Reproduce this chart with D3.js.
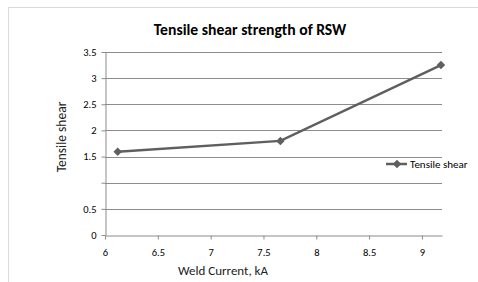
<!DOCTYPE html>
<html>
<head>
<meta charset="utf-8">
<script src="https://cdn.jsdelivr.net/npm/d3@7"></script>
<style>
  body { margin: 0; background: #fff; }
  text { font-family: Carlito, 'Liberation Sans Narrow', 'Open Sans', sans-serif; }
</style>
</head>
<body>
<div id="chart"></div>
<script>
const current = [6.12, 7.66, 9.18]
const shear = [1.59, 1.8, 3.25]
const yTicks = [0, 0.5, 1, 1.5, 2, 2.5, 3, 3.5]
const yTickLabels = ['0', '0.5', '', '1.5', '2', '2.5', '3', '3.5']
const xTicks = [6, 6.5, 7, 7.5, 8, 8.5, 9]
const seriesName = 'Tensile shear'

const chartWidth = 478
const chartHeight = 282
const plotLeft = 105, plotRight = 442, plotTop = 52, plotBottom = 235

const svg = d3
  .select('#chart')
  .append('svg')
  .attr('width', chartWidth)
  .attr('height', chartHeight)

// outer chart border
svg.append('rect')
  .attr('x', 8.5).attr('y', 7.5)
  .attr('width', 480).attr('height', 290)
  .attr('fill', 'none')
  .attr('stroke', '#d9d9d9')

const scaleX = d3.scaleLinear().domain([6, 9.19]).range([plotLeft, plotRight])
const scaleY = d3.scaleLinear().domain([0, 3.5]).range([plotBottom, plotTop])

// gridlines
svg.append('g')
  .selectAll('line')
  .data(yTicks.slice(1))
  .enter()
  .append('line')
  .attr('x1', plotLeft).attr('x2', plotRight)
  .attr('y1', d => Math.round(scaleY(d)) + 0.5)
  .attr('y2', d => Math.round(scaleY(d)) + 0.5)
  .attr('stroke', '#8c8c8c')

const axisX = d3.axisBottom(scaleX).tickValues(xTicks).tickSize(4).tickSizeOuter(0).tickFormat(d3.format('~g'))
const gx = svg.append('g')
  .attr('transform', 'translate(0,' + (plotBottom + 0.5) + ')')
  .call(axisX)
gx.select('.domain').attr('stroke', '#8c8c8c')
gx.selectAll('.tick line').attr('stroke', '#8c8c8c')
gx.selectAll('.tick text').attr('dy', '1.3em').attr('font-size', 10.5).attr('fill', '#000')

const axisY = d3.axisLeft(scaleY).tickValues(yTicks).tickSize(4).tickSizeOuter(0)
  .tickFormat((d, i) => yTickLabels[i])
const gy = svg.append('g')
  .attr('transform', 'translate(' + (plotLeft + 0.5) + ',0)')
  .call(axisY)
gy.select('.domain').attr('stroke', '#8c8c8c')
gy.selectAll('.tick line').attr('stroke', '#8c8c8c')
gy.selectAll('.tick text').attr('x', -9).attr('font-size', 10.5).attr('fill', '#000')

// line + markers
const pts = current.map((c, i) => [c, shear[i]])
svg.append('path')
  .datum(pts)
  .attr('fill', 'none')
  .attr('stroke', '#5f5f5f')
  .attr('stroke-width', 2.5)
  .attr('d', d3.line().x(d => scaleX(d[0])).y(d => scaleY(d[1])))

const diamond = d3.symbol().type(d3.symbolSquare).size(36)
svg.append('g')
  .selectAll('path')
  .data(pts)
  .enter()
  .append('path')
  .attr('d', diamond)
  .attr('transform', d => 'translate(' + scaleX(d[0]) + ',' + scaleY(d[1]) + ') rotate(45)')
  .attr('fill', '#5f5f5f')

// title
svg.append('text')
  .attr('x', 250).attr('y', 35)
  .attr('text-anchor', 'middle')
  .attr('font-size', 15.7)
  .attr('font-weight', 'bold')
  .text('Tensile shear strength of RSW')

// axis titles
svg.append('text')
  .attr('x', 223).attr('y', 275)
  .attr('text-anchor', 'middle')
  .attr('font-size', 13)
  .attr('fill', '#222')
  .text('Weld Current, kA')

svg.append('text')
  .attr('transform', 'translate(66,137) rotate(-90)')
  .attr('text-anchor', 'middle')
  .attr('font-size', 13.5)
  .attr('fill', '#222')
  .text('Tensile shear')

// legend
const lg = svg.append('g').attr('transform', 'translate(386,164)')
lg.append('line').attr('x1', 0).attr('x2', 21).attr('stroke', '#5f5f5f').attr('stroke-width', 2.5)
lg.append('path').attr('d', diamond).attr('transform', 'translate(11,0) rotate(45)').attr('fill', '#5f5f5f')
lg.append('text').attr('x', 24).attr('y', 4).attr('font-size', 11).text(seriesName)
</script>
</body>
</html>
